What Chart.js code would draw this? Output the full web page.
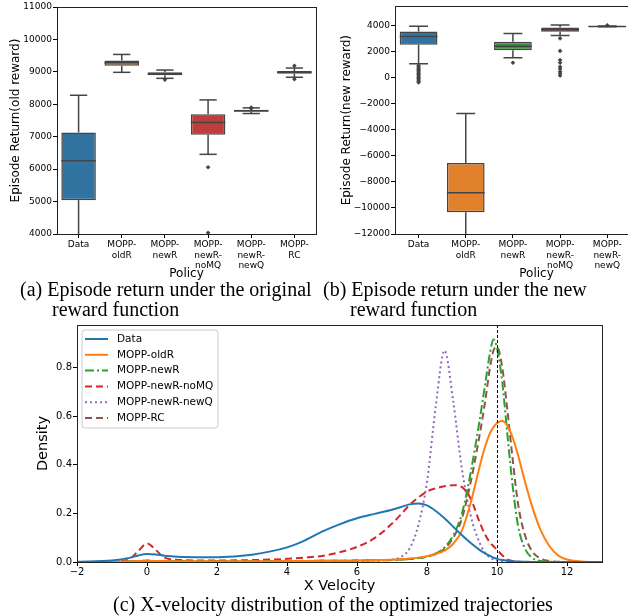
<!DOCTYPE html>
<html>
<head>
<meta charset="utf-8">
<script src="https://cdn.jsdelivr.net/npm/chart.js@4.4.1/dist/chart.umd.min.js"></script>
<style>
html, body { margin: 0; padding: 0; background: #fff; }
body { width: 628px; height: 616px; position: relative; overflow: hidden; }
canvas { position: absolute; }
.cap { position: absolute; font-family: "Liberation Serif", "DejaVu Serif", serif; font-size: 20px; line-height: 22px; color: #000; white-space: nowrap; }
</style>
</head>
<body>
<canvas id="oldChart" width="320" height="283" style="left:0;top:0"></canvas>
<canvas id="newChart" width="362" height="283" style="left:320px;top:0"></canvas>
<canvas id="velChart" width="610" height="277" style="left:0;top:318px"></canvas>
<div class="cap" style="left:20px;top:278px">(a) Episode return under the original</div>
<div class="cap" style="left:52px;top:298px">reward function</div>
<div class="cap" style="left:323px;top:278px">(b) Episode return under the new</div>
<div class="cap" style="left:350px;top:298px">reward function</div>
<div class="cap" style="left:113px;top:593px">(c) X-velocity distribution of the optimized trajectories</div>
<script>
// policies (same order in both box plots)
const policies = ['Data', 'MOPP-oldR', 'MOPP-newR', 'MOPP-newR-noMQ', 'MOPP-newR-newQ', 'MOPP-RC'];
const policyTicks = [['Data'], ['MOPP-', 'oldR'], ['MOPP-', 'newR'], ['MOPP-', 'newR-', 'noMQ'], ['MOPP-', 'newR-', 'newQ'], ['MOPP-', 'RC']];
const boxColors = ['#3274a1', '#e1812c', '#3a923a', '#c03d3e', '#9372b2', '#845b53'];

// (a) episode return, old reward
const oldTicks = [4000, 5000, 6000, 7000, 8000, 9000, 10000, 11000];
const oldLow  = [3500, 8985, 8800, 6456, 7715, 8833];
const oldQ1   = [5044, 9189, 8893, 7060, 7766, 8944];
const oldMed  = [6262, 9281, 8933, 7439, 7797, 8985];
const oldQ3   = [7132, 9353, 8985, 7695, 7828, 9025];
const oldHigh = [8278, 9537, 9056, 8135, 7890, 9118];
const oldOutliers = [[], [], [8760], [6060, 4040], [7900, 7870], [9190, 8770]];

// (b) episode return, new reward (last policy is outside the picture)
const newTicks = [-12000, -10000, -8000, -6000, -4000, -2000, 0, 2000, 4000];
const newLow  = [1089, -13000, 1544, 3266, 3930, null];
const newQ1   = [2557, -10329, 2127, 3544, 3945, null];
const newMed  = [3190, -8835, 2430, 3696, 3955, null];
const newQ3   = [3570, -6532, 2785, 3873, 3965, null];
const newHigh = [3975, -2734, 3418, 4076, 3985, null];
const newOutliers = [
  [950, 850, 750, 650, 550, 450, 350, 250, 150, 50, -50, -150, -250, -350],
  [], [1165],
  [3043, 2079, 1373, 1168, 864, 700, 484, 332, 180],
  [4050], []
];

// (c) x-velocity densities
const velTicks = [-2, 0, 2, 4, 6, 8, 10, 12];
const densTicks = [0, 0.2, 0.4, 0.6, 0.8];
const velocity = [-2, -1, -0.5, -0.25, 0, 0.25, 0.5, 1, 2, 3, 4, 4.5, 5, 5.5, 6, 6.5, 7, 7.25, 7.5, 7.75,
  8, 8.25, 8.5, 8.75, 9, 9.25, 9.5, 9.65, 9.8, 9.9, 10, 10.15, 10.3, 10.45, 10.6, 10.8, 11, 11.25, 11.5, 11.75,
  12, 12.5, 13];
const densData = [0.001, 0.006, 0.017, 0.027, 0.033, 0.031, 0.026, 0.021, 0.02, 0.03, 0.06, 0.088, 0.125, 0.155, 0.18, 0.198, 0.215, 0.226, 0.237, 0.241,
  0.233, 0.21, 0.18, 0.145, 0.11, 0.078, 0.05, 0.036, 0.025, 0.018, 0.013, 0.008, 0.005, 0.003, 0.002, 0.001, 0, 0, 0, 0,
  0, 0, 0];
const densOldR = [0, 0.001, 0.003, 0.004, 0.005, 0.004, 0.004, 0.003, 0.003, 0.003, 0.004, 0.004, 0.005, 0.005, 0.006, 0.007, 0.009, 0.011, 0.014, 0.018,
  0.024, 0.033, 0.047, 0.075, 0.13, 0.245, 0.39, 0.47, 0.53, 0.555, 0.572, 0.58, 0.56, 0.51, 0.44, 0.33, 0.23, 0.13, 0.065, 0.027,
  0.01, 0.001, 0];
const densNewR = [0, 0.001, 0.003, 0.004, 0.005, 0.004, 0.004, 0.003, 0.003, 0.003, 0.004, 0.004, 0.005, 0.005, 0.006, 0.007, 0.008, 0.01, 0.012, 0.016,
  0.022, 0.035, 0.06, 0.11, 0.2, 0.37, 0.58, 0.72, 0.86, 0.915, 0.88, 0.74, 0.52, 0.31, 0.15, 0.055, 0.018, 0.004, 0.001, 0,
  0, 0, 0];
const densNoMQ = [0, 0.001, 0.012, 0.045, 0.076, 0.05, 0.018, 0.008, 0.006, 0.008, 0.013, 0.018, 0.025, 0.04, 0.062, 0.098, 0.158, 0.195, 0.235, 0.265,
  0.29, 0.303, 0.312, 0.316, 0.308, 0.26, 0.165, 0.115, 0.08, 0.065, 0.05, 0.028, 0.01, 0.004, 0.001, 0, 0, 0, 0, 0,
  0, 0, 0];
const densNewQ = [0, 0.001, 0.003, 0.004, 0.005, 0.004, 0.004, 0.003, 0.003, 0.003, 0.004, 0.004, 0.004, 0.004, 0.004, 0.006, 0.01, 0.02, 0.055, 0.15,
  0.33, 0.64, 0.87, 0.66, 0.38, 0.19, 0.08, 0.04, 0.018, 0.01, 0.005, 0.002, 0, 0, 0, 0, 0, 0, 0, 0,
  0, 0, 0];
const densRC = [0, 0.001, 0.003, 0.004, 0.005, 0.004, 0.004, 0.003, 0.003, 0.003, 0.004, 0.004, 0.005, 0.005, 0.006, 0.007, 0.008, 0.01, 0.012, 0.016,
  0.022, 0.033, 0.055, 0.1, 0.18, 0.33, 0.52, 0.65, 0.8, 0.87, 0.885, 0.8, 0.62, 0.42, 0.24, 0.11, 0.045, 0.014, 0.004, 0.001,
  0, 0, 0];
const refVelocity = 10;

Chart.defaults.font.family = 'DejaVu Sans';
Chart.defaults.color = '#000';

const frame = {
  id: 'frame',
  afterDraw(chart) {
    const { ctx, chartArea: a } = chart;
    ctx.save();
    ctx.strokeStyle = '#222';
    ctx.lineWidth = 1;
    ctx.strokeRect(Math.round(a.left) + 0.5, Math.round(a.top) + 0.5, Math.round(a.right - a.left), Math.round(a.bottom - a.top));
    ctx.restore();
  }
};

const boxWhiskers = {
  id: 'boxWhiskers',
  afterDatasetsDraw(chart, args, o) {
    if (!o.med) return;
    const { ctx, chartArea: a, scales: { x, y } } = chart;
    const step = x.getPixelForValue(1) - x.getPixelForValue(0);
    const half = step * 0.4, cap = step * 0.2;
    const seg = (x1, y1, x2, y2) => { ctx.beginPath(); ctx.moveTo(x1, y1); ctx.lineTo(x2, y2); ctx.stroke(); };
    ctx.save();
    ctx.beginPath();
    ctx.rect(a.left, a.top, a.right - a.left, a.bottom - a.top);
    ctx.clip();
    ctx.strokeStyle = '#444';
    ctx.lineWidth = 1.5;
    o.med.forEach((m, i) => {
      if (m == null) return;
      const cx = x.getPixelForValue(i);
      const hi = y.getPixelForValue(o.high[i]), lo = y.getPixelForValue(o.low[i]);
      seg(cx, y.getPixelForValue(o.q3[i]), cx, hi);
      seg(cx, y.getPixelForValue(o.q1[i]), cx, lo);
      seg(cx - cap, hi, cx + cap, hi);
      seg(cx - cap, lo, cx + cap, lo);
      const my = y.getPixelForValue(m);
      seg(cx - half, my, cx + half, my);
    });
    ctx.restore();
  }
};

function fmtNum(v) {
  return String(v).replace('-', '\u2212');
}

function boxChart(id, q1, med, q3, low, high, outliers, yMin, yMax, yTicks, yTitle, yWidth, titlePad, padTop, padRight) {
  const outPoints = [];
  outliers.forEach((list, i) => list.forEach(v => outPoints.push({ x: policies[i], y: v })));
  return new Chart(document.getElementById(id), {
    type: 'bar',
    data: {
      labels: policies,
      datasets: [
        {
          data: q1.map((v, i) => v == null ? null : [v, q3[i]]),
          backgroundColor: boxColors,
          borderColor: '#444',
          borderWidth: 1.5,
          borderSkipped: false,
          barPercentage: 0.8,
          categoryPercentage: 1
        },
        {
          type: 'line',
          data: outPoints,
          showLine: false,
          pointStyle: 'rectRot',
          pointRadius: 2.3,
          backgroundColor: '#444',
          borderColor: '#444',
          borderWidth: 0
        }
      ]
    },
    options: {
      responsive: false,
      animation: false,
      layout: { padding: { top: padTop, right: padRight, left: 0, bottom: 1 } },
      plugins: {
        legend: { display: false },
        tooltip: { enabled: false },
        boxWhiskers: { q1: q1, med: med, q3: q3, low: low, high: high }
      },
      scales: {
        x: {
          offset: true,
          grid: { offset: false, drawOnChartArea: false, tickLength: 4, color: '#000' },
          border: { display: false },
          ticks: { font: { size: 9 }, padding: 1, maxRotation: 0, autoSkip: false, callback: (v, i) => policyTicks[i] },
          title: { display: true, text: 'Policy', font: { size: 12 }, padding: { top: 0, bottom: 1 } },
          afterFit: s => { s.height = 48; }
        },
        y: {
          min: yMin,
          max: yMax,
          grid: { drawOnChartArea: false, tickLength: 4, color: '#000' },
          border: { display: false },
          ticks: { font: { size: 9 }, padding: 1, autoSkip: false, callback: v => fmtNum(v) },
          afterBuildTicks: s => { s.ticks = yTicks.map(v => ({ value: v })); },
          title: { display: true, text: yTitle, font: { size: 12 }, padding: { top: titlePad, bottom: 0 } },
          afterFit: s => { s.width = yWidth; }
        }
      }
    },
    plugins: [boxWhiskers, frame]
  });
}

boxChart('oldChart', oldQ1, oldMed, oldQ3, oldLow, oldHigh, oldOutliers, 4000, 11000, oldTicks,
  'Episode Return(old reward)', 57, 9, 7, 4);
boxChart('newChart', newQ1, newMed, newQ3, newLow, newHigh, newOutliers, -12000, 5500, newTicks,
  'Episode Return(new reward)', 75, 20, 5, 2);

// (c) density curves
const series = [
  { label: 'Data', y: densData, color: '#1f77b4', dash: [] },
  { label: 'MOPP-oldR', y: densOldR, color: '#ff7f0e', dash: [] },
  { label: 'MOPP-newR', y: densNewR, color: '#2ca02c', dash: [9, 3, 2, 3] },
  { label: 'MOPP-newR-noMQ', y: densNoMQ, color: '#d62728', dash: [7, 4] },
  { label: 'MOPP-newR-newQ', y: densNewQ, color: '#9467bd', dash: [2, 3] },
  { label: 'MOPP-RC', y: densRC, color: '#8c564b', dash: [7, 4] }
];

const refLine = {
  id: 'refLine',
  afterDatasetsDraw(chart) {
    const { ctx, chartArea: a, scales: { x } } = chart;
    const px = Math.round(x.getPixelForValue(refVelocity)) + 0.5;
    ctx.save();
    ctx.strokeStyle = '#000';
    ctx.lineWidth = 1;
    ctx.setLineDash([3, 2]);
    ctx.beginPath();
    ctx.moveTo(px, a.top);
    ctx.lineTo(px, a.bottom);
    ctx.stroke();
    ctx.restore();
  }
};

const kdeLegend = {
  id: 'kdeLegend',
  afterDraw(chart) {
    const { ctx, chartArea: a } = chart;
    const x0 = a.left + 5, y0 = a.top + 5, w = 136, h = 98, r = 3;
    ctx.save();
    ctx.beginPath();
    ctx.moveTo(x0 + r, y0);
    ctx.arcTo(x0 + w, y0, x0 + w, y0 + h, r);
    ctx.arcTo(x0 + w, y0 + h, x0, y0 + h, r);
    ctx.arcTo(x0, y0 + h, x0, y0, r);
    ctx.arcTo(x0, y0, x0 + w, y0, r);
    ctx.closePath();
    ctx.fillStyle = 'rgba(255,255,255,0.8)';
    ctx.fill();
    ctx.strokeStyle = '#cccccc';
    ctx.lineWidth = 1;
    ctx.stroke();
    ctx.font = '10.5px "DejaVu Sans"';
    ctx.textBaseline = 'middle';
    chart.data.datasets.forEach((ds, i) => {
      const yy = y0 + 9 + i * 15.8;
      ctx.strokeStyle = ds.borderColor;
      ctx.lineWidth = 2;
      ctx.setLineDash(ds.borderDash);
      ctx.beginPath();
      ctx.moveTo(x0 + 3, yy);
      ctx.lineTo(x0 + 26, yy);
      ctx.stroke();
      ctx.setLineDash([]);
      ctx.fillStyle = '#000';
      ctx.fillText(ds.label, x0 + 35, yy);
    });
    ctx.restore();
  }
};

new Chart(document.getElementById('velChart'), {
  type: 'line',
  data: {
    datasets: series.map(s => ({
      label: s.label,
      data: velocity.map((v, i) => ({ x: v, y: s.y[i] })),
      borderColor: s.color,
      backgroundColor: s.color,
      borderDash: s.dash,
      borderWidth: 2,
      pointRadius: 0,
      cubicInterpolationMode: 'monotone',
      fill: false
    }))
  },
  options: {
    responsive: false,
    animation: false,
    layout: { padding: { top: 5, right: 8, left: 0, bottom: 0 } },
    plugins: { legend: { display: false }, tooltip: { enabled: false } },
    scales: {
      x: {
        type: 'linear',
        min: -2,
        max: 13,
        grid: { drawOnChartArea: false, tickLength: 4, color: '#000' },
        border: { display: false },
        ticks: { font: { size: 10 }, padding: 0, autoSkip: false, callback: v => fmtNum(v) },
        afterBuildTicks: s => { s.ticks = velTicks.map(v => ({ value: v })); },
        title: { display: true, text: 'X Velocity', font: { size: 14.5 }, padding: { top: 0, bottom: 0 } },
        afterFit: s => { s.height = 33; }
      },
      y: {
        min: 0,
        max: 0.975,
        grid: { drawOnChartArea: false, tickLength: 4, color: '#000' },
        border: { display: false },
        ticks: { font: { size: 10 }, padding: 1, autoSkip: false, callback: v => v.toFixed(1) },
        afterBuildTicks: s => { s.ticks = densTicks.map(v => ({ value: v })); },
        title: { display: true, text: 'Density', font: { size: 14.5 }, padding: { top: 35, bottom: 0 } },
        afterFit: s => { s.width = 77; }
      }
    }
  },
  plugins: [refLine, kdeLegend, frame]
});
</script>
</body>
</html>
